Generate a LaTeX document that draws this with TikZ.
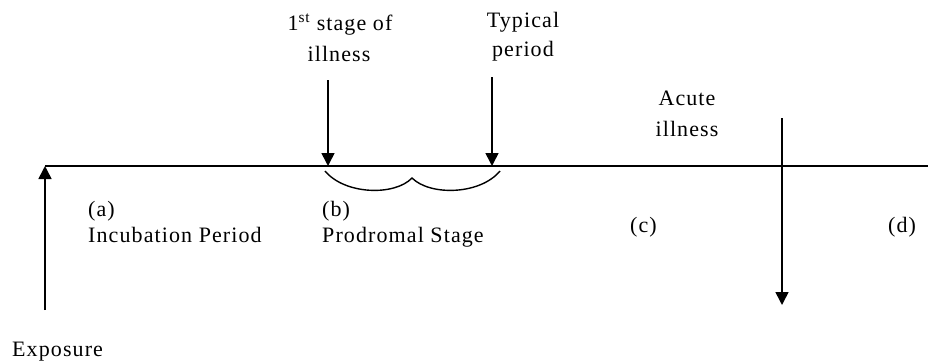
\documentclass[tikz,border=0pt]{standalone}
\usepackage{fontspec}
\setmainfont{Liberation Serif}[LetterSpace=5]
\usetikzlibrary{arrows.meta}
\begin{document}
\begin{tikzpicture}[x=1pt,y=-1pt,
  lbl/.style={inner sep=0pt,font=\fontsize{22}{26}\selectfont},
  lft/.style={lbl,anchor=base west},
  ctr/.style={lbl,anchor=base,align=center},
  arr/.style={line width=1.6pt,-{Triangle[length=13pt,width=13pt]}},
  axis/.style={line width=1.6pt},
  brace/.style={line width=1.4pt}]
\useasboundingbox (0,0) rectangle (928,362);
% main time line
\coordinate (L0) at (45,166);
\coordinate (L1) at (928,166);
\draw[axis] (L0) -- (L1);
% exposure
\coordinate (E0) at (45,310);
\draw[arr] (E0) -- (L0);
\node[lft] (exp) at (12,356) {Exposure};
% labels
\node[lft] (a) at (88,216) {(a)};
\node[lft] (ip) at (88,242) {Incubation Period};
\node[lft] (b) at (322,216) {(b)};
\node[lft] (ps) at (322,242) {Prodromal Stage};
\node[lft] (c) at (630,232) {(c)};
\node[lft] (d) at (888,232) {(d)};
% first stage
\node[ctr] (fs1) at (340,30) {1\textsuperscript{st} stage of};
\node[ctr] (fs2) at (339,61) {illness};
\coordinate (F0) at (328,80);
\coordinate (F1) at (328,166);
\draw[arr] (F0) -- (F1);
% typical period
\node[ctr] (tp1) at (523,27) {Typical};
\node[ctr] (tp2) at (523,56) {period};
\coordinate (T0) at (492,77);
\coordinate (T1) at (492,166);
\draw[arr] (T0) -- (T1);
% brace
\coordinate (B0) at (325,171);
\coordinate (Bm) at (412,178);
\coordinate (B1) at (500,171);
\draw[brace] (B0) .. controls (345,195) and (395,196) .. (Bm)
                   .. controls (430,196) and (480,195) .. (B1);
% acute illness
\node[ctr] (ac1) at (687,105) {Acute};
\node[ctr] (ac2) at (687,136) {illness};
\coordinate (A0) at (782,118);
\coordinate (A1) at (782,305);
\draw[arr] (A0) -- (A1);
\end{tikzpicture}
\end{document}
